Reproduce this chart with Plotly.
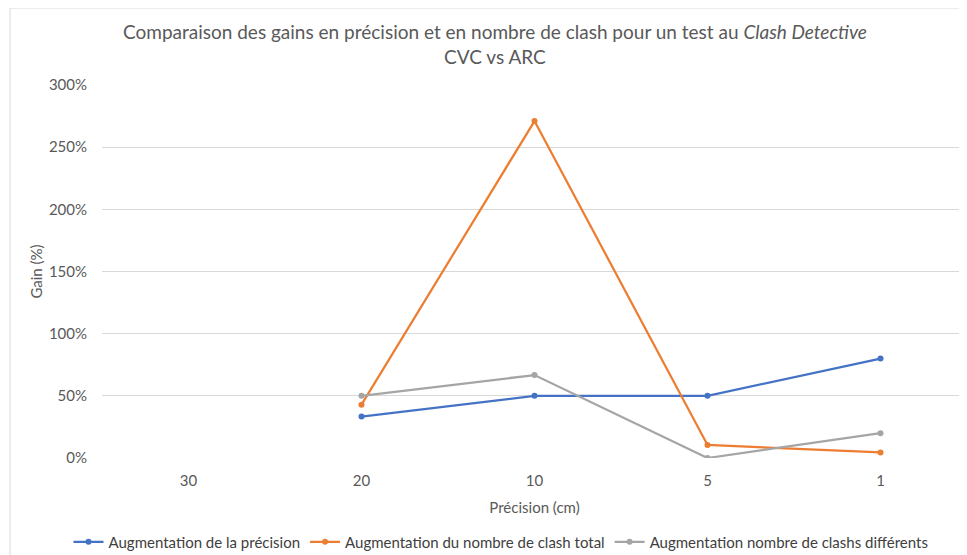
import plotly.graph_objects as go

categories = ["30", "20", "10", "5", "1"]
precision_gain = [None, 0.333, 0.50, 0.50, 0.80]
total_clash_gain = [None, 0.429, 2.71, 0.105, 0.045]
distinct_clash_gain = [None, 0.50, 0.667, 0.0, 0.20]
series_names = [
    "Augmentation de la précision",
    "Augmentation du nombre de clash total",
    "Augmentation nombre de clashs différents",
]
colors = ["#4472C4", "#ED7D31", "#A5A5A5"]
title_text = "Comparaison des gains en précision et en nombre de clash pour un test au <i>Clash Detective</i><br>CVC vs ARC"

OFF = 8  # page body margin
W, H = 967 - OFF, 555 - OFF
L, R, T, B = 102 - OFF, 0, 85 - OFF, 97
pw, ph = W - L - R, H - T - B

fig = go.Figure()
for name, vals, c in zip(series_names, [precision_gain, total_clash_gain, distinct_clash_gain], colors):
    fig.add_trace(go.Scatter(
        x=categories, y=vals, name=name, mode="lines+markers",
        line=dict(color=c, width=2.25), marker=dict(color=c, size=6),
        connectgaps=False,
    ))

font_family = "Lato, 'Open Sans', sans-serif"
txt = "#595959"

fig.update_layout(
    width=W, height=H,
    margin=dict(l=L, r=R, t=T, b=B, autoexpand=False),
    paper_bgcolor="white", plot_bgcolor="white",
    font=dict(family=font_family, color=txt, size=15),
    xaxis=dict(
        type="category", categoryorder="array", categoryarray=categories,
        range=[-0.5, 4.5], showgrid=False, showline=False, zeroline=False,
        ticks="", tickfont=dict(size=15, color=txt), ticklabelstandoff=12,
        automargin=False,
        title=dict(text="Précision (cm)", font=dict(size=15, color=txt), standoff=14),
    ),
    yaxis=dict(
        range=[0, 3.0], dtick=0.5, tickformat=".0%",
        showgrid=True, gridcolor="#D9D9D9", gridwidth=1,
        zeroline=False, showline=False, ticks="",
        tickfont=dict(size=15, color=txt), ticklabelstandoff=14,
        automargin=False,
        title=dict(text="Gain (%)", font=dict(size=15, color=txt), standoff=2),
    ),
    legend=dict(
        orientation="h", x=(501 - 102) / pw, xanchor="center",
        y=-(542 - 458) / ph, yanchor="middle",
        font=dict(size=15, color="#404040"), itemwidth=30,
        tracegroupgap=0,
    ),
    showlegend=True,
    hovermode=False,
    annotations=[dict(
        text=title_text, xref="paper", yref="paper",
        x=(495 - 102) / pw, y=(458 - 44) / ph,
        xanchor="center", yanchor="middle", showarrow=False,
        font=dict(size=19, color=txt, family=font_family),
    )],
    shapes=[dict(
        type="rect", xref="paper", yref="paper",
        x0=(10 - 102) / pw, x1=(967 + 20 - 102) / pw,
        y0=-(555 + 20 - 458) / ph, y1=(458 - 8) / ph,
        line=dict(color="#D9D9D9", width=1), fillcolor="rgba(0,0,0,0)",
        layer="below",
    )],
)

fig.write_html("out.html")
